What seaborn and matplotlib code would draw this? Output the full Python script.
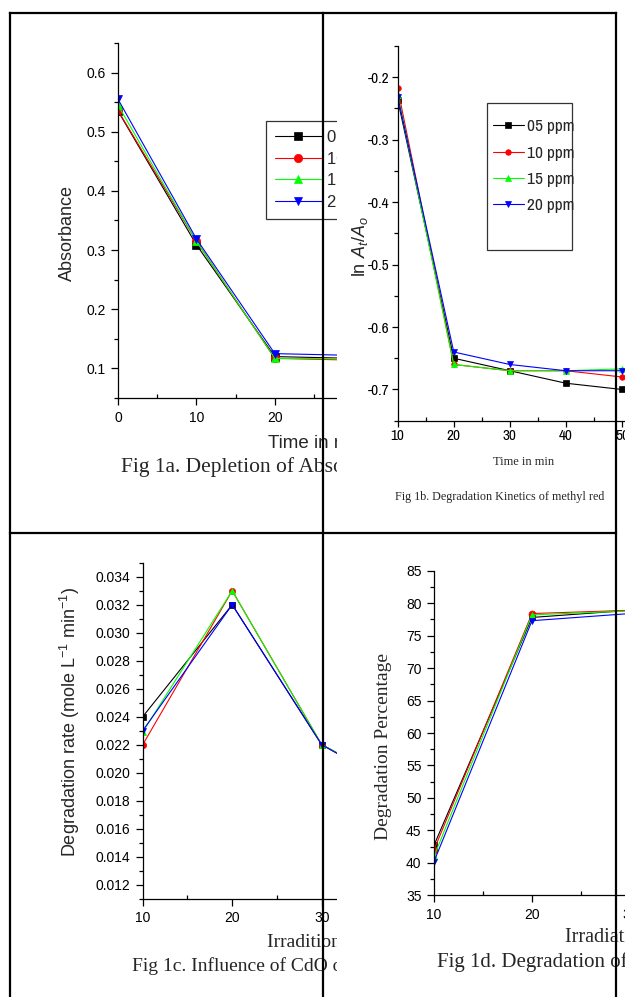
import pandas as pd
import matplotlib
matplotlib.use("Agg")
import matplotlib.pyplot as plt
import seaborn as sns
from matplotlib import font_manager
from matplotlib.font_manager import FontProperties
from matplotlib.lines import Line2D
from matplotlib.patches import Rectangle
from matplotlib.ticker import MultipleLocator, FormatStrFormatter

# ----------------------------------------------------------
# DATA
# ----------------------------------------------------------
conc = ["05 ppm", "10 ppm", "15 ppm", "20 ppm"]
colors = ["black", "red", "#00ff00", "blue"]
markers = ["s", "o", "^", "v"]

# Fig 1a - absorbance vs time
time_a = [0, 10, 20, 30, 40, 50]
abs_05 = [0.535, 0.309, 0.120, 0.117, 0.115, 0.113]
abs_10 = [0.536, 0.315, 0.117, 0.114, 0.112, 0.110]
abs_15 = [0.545, 0.315, 0.117, 0.116, 0.114, 0.112]
abs_20 = [0.555, 0.319, 0.125, 0.122, 0.120, 0.118]

# Fig 1b - ln(At/Ao) vs time
time_b = [10, 20, 30, 40, 50]
ln_05 = [-0.236, -0.650, -0.670, -0.690, -0.700]
ln_10 = [-0.218, -0.660, -0.670, -0.670, -0.680]
ln_15 = [-0.228, -0.660, -0.670, -0.670, -0.667]
ln_20 = [-0.231, -0.640, -0.660, -0.670, -0.670]

# Fig 1c - degradation rate vs irradiation time
time_c = [10, 20, 30, 40]
rate_05 = [0.0240, 0.0320, 0.0220, 0.0185]
rate_10 = [0.0220, 0.0330, 0.0220, 0.0186]
rate_15 = [0.0229, 0.0330, 0.0220, 0.0186]
rate_20 = [0.0230, 0.0320, 0.0220, 0.0184]

# Fig 1d - degradation percentage vs irradiation time
time_d = [10, 20, 30]
deg_05 = [42.7, 77.8, 78.9]
deg_10 = [42.0, 78.4, 78.9]
deg_15 = [41.0, 78.2, 78.8]
deg_20 = [40.2, 77.3, 78.4]


def long_df(x, series):
    rows = []
    for name, vals in zip(conc, series):
        for xi, yi in zip(x, vals):
            rows.append({"x": xi, "y": yi, "conc": name})
    return pd.DataFrame(rows)


df_a = long_df(time_a, [abs_05, abs_10, abs_15, abs_20])
df_b = long_df(time_b, [ln_05, ln_10, ln_15, ln_20])
df_c = long_df(time_c, [rate_05, rate_10, rate_15, rate_20])
df_d = long_df(time_d, [deg_05, deg_10, deg_15, deg_20])

# ----------------------------------------------------------
# STYLE
# ----------------------------------------------------------
sns.set_style("ticks")
plt.rcParams["font.family"] = ["Liberation Sans", "DejaVu Sans"]
plt.rcParams["axes.unicode_minus"] = False
plt.rcParams["mathtext.fontset"] = "custom"
plt.rcParams["mathtext.rm"] = "Liberation Sans"
plt.rcParams["mathtext.it"] = "Liberation Sans:italic"

SANS = "Liberation Sans"
SERIF = "Liberation Serif"

# panel 1b uses an Arial Narrow look; pick whatever condensed face exists
narrow_file = None
for f in font_manager.fontManager.ttflist:
    nm = f.name.lower()
    if ("narrow" in nm or "condensed" in nm or f.stretch == "condensed") \
            and f.style == "normal" and f.weight in (400, "normal", "regular"):
        if "sans" in nm or "roboto" in nm or "narrow" in nm:
            narrow_file = f.fname
            if "narrow" in nm:
                break


def narrow(size):
    if narrow_file:
        return FontProperties(fname=narrow_file, size=size)
    return FontProperties(family=SANS, size=size * 0.88)


W, H = 625, 997
fig = plt.figure(figsize=(W / 100, H / 100), dpi=100)


def rect(left, top, right, bottom):
    return [left / W, 1 - bottom / H, (right - left) / W, (bottom - top) / H]


def put(ax, x, y, s, **kw):
    kw.setdefault("va", "center")
    ax.text(x / W, 1 - y / H, s, transform=fig.transFigure, clip_on=False, **kw)


def cover(left, top, right, bottom, z):
    # white page of the next picture, hides overflow of the previous one
    bg = fig.add_axes(rect(left, top, right, bottom), zorder=z)
    bg.set_xticks([])
    bg.set_yticks([])
    for s in bg.spines.values():
        s.set_visible(False)
    bg.set_facecolor("white")
    return bg


def panel(df, box, z, xlim, ylim, xstep, ystep, yfmt, ms):
    ax = fig.add_axes(rect(*box), zorder=z)
    ax.patch.set_alpha(0)
    sns.lineplot(
        data=df, x="x", y="y", hue="conc", style="conc",
        hue_order=conc, style_order=conc,
        palette=colors, markers=markers, dashes=False,
        errorbar=None, legend=False, ax=ax,
        linewidth=0.8, markersize=ms,
    )
    for ln in ax.get_lines():
        ln.set_markeredgecolor(ln.get_color())
        ln.set_markeredgewidth(0.5)
    sns.despine(ax=ax)
    for s in ["left", "bottom"]:
        ax.spines[s].set_color("black")
        ax.spines[s].set_linewidth(0.9)
    ax.set_xlim(*xlim)
    ax.set_ylim(*ylim)
    ax.xaxis.set_major_locator(MultipleLocator(xstep))
    ax.xaxis.set_minor_locator(MultipleLocator(xstep / 2))
    ax.yaxis.set_major_locator(MultipleLocator(ystep))
    ax.yaxis.set_minor_locator(MultipleLocator(ystep / 2))
    ax.yaxis.set_major_formatter(FormatStrFormatter(yfmt))
    ax.tick_params(which="major", direction="out", length=5, width=0.9,
                   pad=4, labelsize=10, colors="black")
    ax.tick_params(which="minor", direction="out", length=3, width=0.9,
                   colors="black")
    ax.tick_params(axis="x", which="minor", direction="in")
    ax.set_xlabel("")
    ax.set_ylabel("")
    return ax


# ----------------------------------------------------------
# FIG 1a
# ----------------------------------------------------------
ax_a = panel(df_a, (118, 43, 510, 398), 1, (0, 50), (0.05, 0.65),
             10, 0.1, "%.1f", 6)
put(ax_a, 67, 233, "Absorbance", rotation=90, ha="center", fontsize=13)
put(ax_a, 268, 443, "Time in min", ha="left", fontsize=13.5)
put(ax_a, 120.7, 467, "Fig 1a. Depletion of Absorbance", ha="left",
    family=SERIF, fontsize=15.5)
leg_a = ax_a.legend(
    ax_a.get_lines()[:4], conc, loc="upper left",
    bbox_to_anchor=(265.7 / W, 1 - 120.7 / H), bbox_transform=fig.transFigure,
    frameon=True, fancybox=False, framealpha=1, edgecolor="#333333",
    fontsize=12, handlelength=2.8, handletextpad=0.35, borderpad=0.55,
    labelspacing=0.4, borderaxespad=0,
)
leg_a.get_frame().set_linewidth(0.9)

# ----------------------------------------------------------
# FIG 1b
# ----------------------------------------------------------
cover(337, 0, 625, 533, 2)
ax_b = panel(df_b, (397.7, 46, 650, 420.7), 3, (10, 55), (-0.75, -0.15),
             10, 0.1, "%.1f", 4)
ax_b.tick_params(which="major", length=4, pad=2)
for lbl in ax_b.get_xticklabels() + ax_b.get_yticklabels():
    lbl.set_fontproperties(narrow(11))
put(ax_b, 360, 247, r"ln $A_t$/$A_o$", rotation=90, ha="center", fontsize=13)
put(ax_b, 524, 461.7, "Time in min", ha="center", family=SERIF, fontsize=9)
put(ax_b, 499.4, 496.7, "Fig 1b. Degradation Kinetics of methyl red",
    ha="center", family=SERIF, fontsize=8.7)
ax_b.add_artist(Rectangle(
    (486.7 / W, 1 - 250 / H), (571.7 - 486.7) / W, (250 - 103.3) / H,
    transform=fig.transFigure, facecolor="white", edgecolor="#333333",
    linewidth=0.9, clip_on=False, zorder=4))
leg_b = ax_b.legend(
    ax_b.get_lines()[:4], conc, loc="upper left",
    bbox_to_anchor=(492.7 / W, 1 - 119 / H), bbox_transform=fig.transFigure,
    frameon=False, handlelength=1.8, handletextpad=0.15,
    borderpad=0, labelspacing=0.65, borderaxespad=0,
    prop=narrow(12.5),
)
leg_b.set_zorder(5)

# ----------------------------------------------------------
# FIG 1c
# ----------------------------------------------------------
ax_c = panel(df_c, (142.7, 562.7, 500.7, 898.7), 4, (10, 50), (0.011, 0.035),
             10, 0.002, "%.3f", 4.5)
put(ax_c, 70, 721.7, r"Degradation rate (mole L$^{-1}$ min$^{-1}$)",
    rotation=90, ha="center", fontsize=13)
put(ax_c, 266.7, 942.7, "Irradition time in min", ha="left",
    family=SERIF, fontsize=14)
put(ax_c, 131.7, 966, "Fig 1c. Influence of CdO on degradation rate",
    ha="left", family=SERIF, fontsize=14)

# ----------------------------------------------------------
# FIG 1d
# ----------------------------------------------------------
cover(337, 533, 625, 997, 5)
ax_d = panel(df_d, (434, 570.7, 826, 895.3), 6, (10, 50), (35, 85),
             10, 5, "%d", 5)
put(ax_d, 384, 746, "Degradation Percentage", rotation=90, ha="center",
    family=SERIF, fontsize=14)
put(ax_d, 565, 937.3, "Irradiation time in min", ha="left",
    family=SERIF, fontsize=14.5)
put(ax_d, 437.3, 961.7, "Fig 1d. Degradation of methyl red", ha="left",
    family=SERIF, fontsize=15)

# ----------------------------------------------------------
# TABLE BORDERS
# ----------------------------------------------------------
def rule(x0, y0, x1, y1):
    fig.add_artist(Line2D([x0 / W, x1 / W], [1 - y0 / H, 1 - y1 / H],
                          transform=fig.transFigure, color="black",
                          linewidth=1.6, zorder=10,
                          solid_capstyle="projecting"))


rule(10, 13, 615.5, 13)
rule(10, 533, 615.5, 533)
rule(10, 13, 10, 997)
rule(323.5, 13, 323.5, 997)
rule(615.5, 13, 615.5, 997)

fig.savefig("out.png", dpi=100, facecolor="white")
